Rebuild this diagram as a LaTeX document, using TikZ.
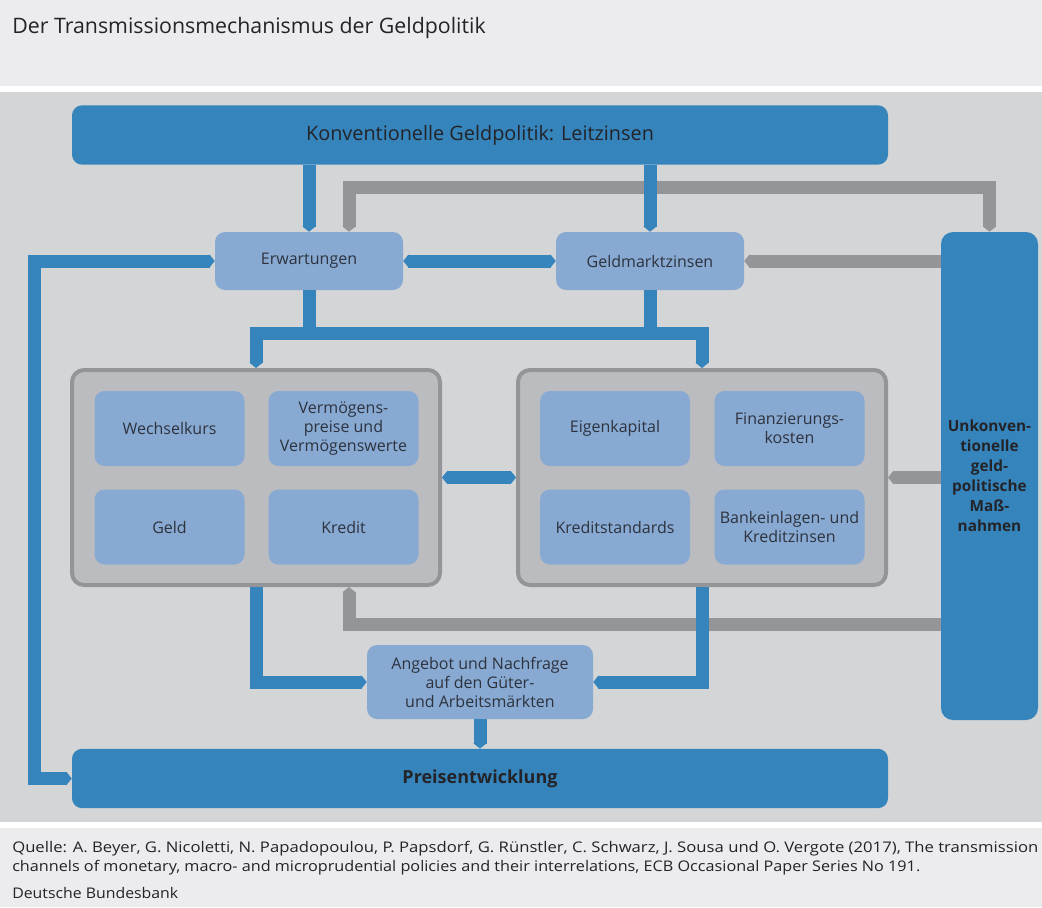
\documentclass[tikz,border=0pt]{standalone}
\usepackage{fontspec}
\usepackage{graphicx}
\setmainfont{Open Sans}
\usetikzlibrary{arrows.meta}
\definecolor{titlebg}{RGB}{236,236,238}
\definecolor{diagbg}{RGB}{212,213,215}
\definecolor{mblue}{RGB}{53,132,188}
\definecolor{lblue}{RGB}{136,170,210}
\definecolor{grpfill}{RGB}{187,188,191}
\definecolor{mgray}{RGB}{147,149,152}
\definecolor{txt}{RGB}{35,35,40}
\definecolor{btxt}{RGB}{45,50,62}
\begin{document}
\begin{tikzpicture}[x=0.75pt,y=-0.75pt,
  >={Triangle[width=9.75pt,length=4pt]},
  bband/.style={draw=mblue, line width=9.75pt},
  gband/.style={draw=mgray, line width=9.75pt},
  bigbox/.style={fill=mblue, rounded corners=7.5pt, minimum width=612pt, minimum height=44.5pt, inner sep=0pt, text=txt},
  lbox/.style={fill=lblue, rounded corners=7.5pt, minimum width=112.5pt, minimum height=56.25pt, inner sep=0pt, align=center, text=btxt, font=\fontsize{12}{14.25}\selectfont},
  grp/.style={fill=grpfill, draw=mgray, line width=3pt, rounded corners=9pt, minimum width=276pt, minimum height=161.25pt, inner sep=0pt},
  foot/.style={anchor=base west, inner sep=0pt, text=txt, font=\fontsize{11}{13}\selectfont}]
\useasboundingbox (0,0) rectangle (1042,907);
% backgrounds
\fill[titlebg] (0,0) rectangle (1042,86);
\fill[white] (0,86) rectangle (1042,92);
\fill[diagbg] (0,92) rectangle (1042,822);
\fill[white] (0,822) rectangle (1042,828);
\fill[titlebg] (0,828) rectangle (1042,907);
% title
\node[anchor=base west, inner sep=0pt, text=txt, font=\fontsize{16}{19}\selectfont] (title) at (12,33) {Der Transmissionsmechanismus der Geldpolitik};
% main nodes
\node[bigbox, font=\fontsize{14.9}{17}\selectfont] (konv) at (480,135) {Konventionelle Geldpolitik: Leitzinsen};
\node[bigbox, font=\fontsize{13.5}{16}\selectfont\bfseries] (preis) at (480,778.5) {Preisentwicklung};
\node[lbox, minimum width=141pt, minimum height=43.5pt] (erw) at (309,261) {Erwartungen};
\node[lbox, minimum width=141pt, minimum height=43.5pt] (geld) at (650,261) {Geldmarktzinsen};
\node[fill=mblue, rounded corners=9pt, minimum width=72.75pt, minimum height=366pt, inner sep=0pt, align=center, text=txt, font=\fontsize{11.5}{15}\selectfont\bfseries] (unk) at (989.5,476) {Unkonven-\\tionelle\\geld-\\politische\\Maß-\\nahmen};
\node[grp] (lg) at (256,477.5) {};
\node[grp] (rg) at (702,477.5) {};
\node[lbox] (wk) at (169.5,428.5) {Wechselkurs};
\node[lbox] (vm) at (343.5,428.5) {Vermögens-\\preise und\\Vermögenswerte};
\node[lbox] (gd) at (169.5,527) {Geld};
\node[lbox] (kr) at (343.5,527) {Kredit};
\node[lbox] (ek) at (615,428.5) {Eigenkapital};
\node[lbox] (fk) at (789.5,428.5) {Finanzierungs-\\kosten};
\node[lbox] (ks) at (615,527) {Kreditstandards};
\node[lbox] (bk) at (789.5,527) {Bankeinlagen- und\\Kreditzinsen};
\node[lbox, minimum width=169.5pt, minimum height=55.5pt] (ang) at (480,682) {Angebot und Nachfrage\\auf den Güter-\\und Arbeitsmärkten};
% gray connectors
\draw[gband,<->] ([xshift=30pt]erw.north) |- (unk.north |- 0,187) -- (unk.north);
\draw[gband,->] (unk.west |- geld.east) -- (geld.east);
\draw[gband,->] (unk.west |- rg.east) -- (rg.east);
\draw[gband,->] (unk.west |- 0,624) -| ([xshift=69.75pt]lg.south);
% blue connectors
\draw[bband,->] (erw.north |- konv.south) -- (erw.north);
\draw[bband,->] (geld.north |- konv.south) -- (geld.north);
\draw[bband,<->] (erw.east) -- (geld.west);
\draw[bband,<->] (erw.west) -- (34,261) -- (34,778.5) -- (preis.west);
\draw[bband] (erw.south) -- (erw.south |- 0,333);
\draw[bband] (geld.south) -- (geld.south |- 0,333);
\draw[bband,<->] (lg.north) |- (rg.north |- 0,333) -- (rg.north);
\draw[bband,<->] (lg.east) -- (rg.west);
\draw[bband,->] (lg.south) |- (ang.west);
\draw[bband,->] (rg.south) |- (ang.east);
\draw[bband,->] (ang.south) -- (ang.south |- preis.north);
% footer
\node[foot] (f1) at (12,852) {\resizebox{769.5pt}{\height}{Quelle: A. Beyer, G. Nicoletti, N. Papadopoulou, P. Papsdorf, G. Rünstler, C. Schwarz, J. Sousa und O. Vergote (2017), The transmission}};
\node[foot] (f2) at (12,871) {\resizebox{681pt}{\height}{channels of monetary, macro- and microprudential policies and their interrelations, ECB Occasional Paper Series No 191.}};
\node[foot] (f3) at (12,898) {\resizebox{124.5pt}{\height}{Deutsche Bundesbank}};
\end{tikzpicture}
\end{document}
